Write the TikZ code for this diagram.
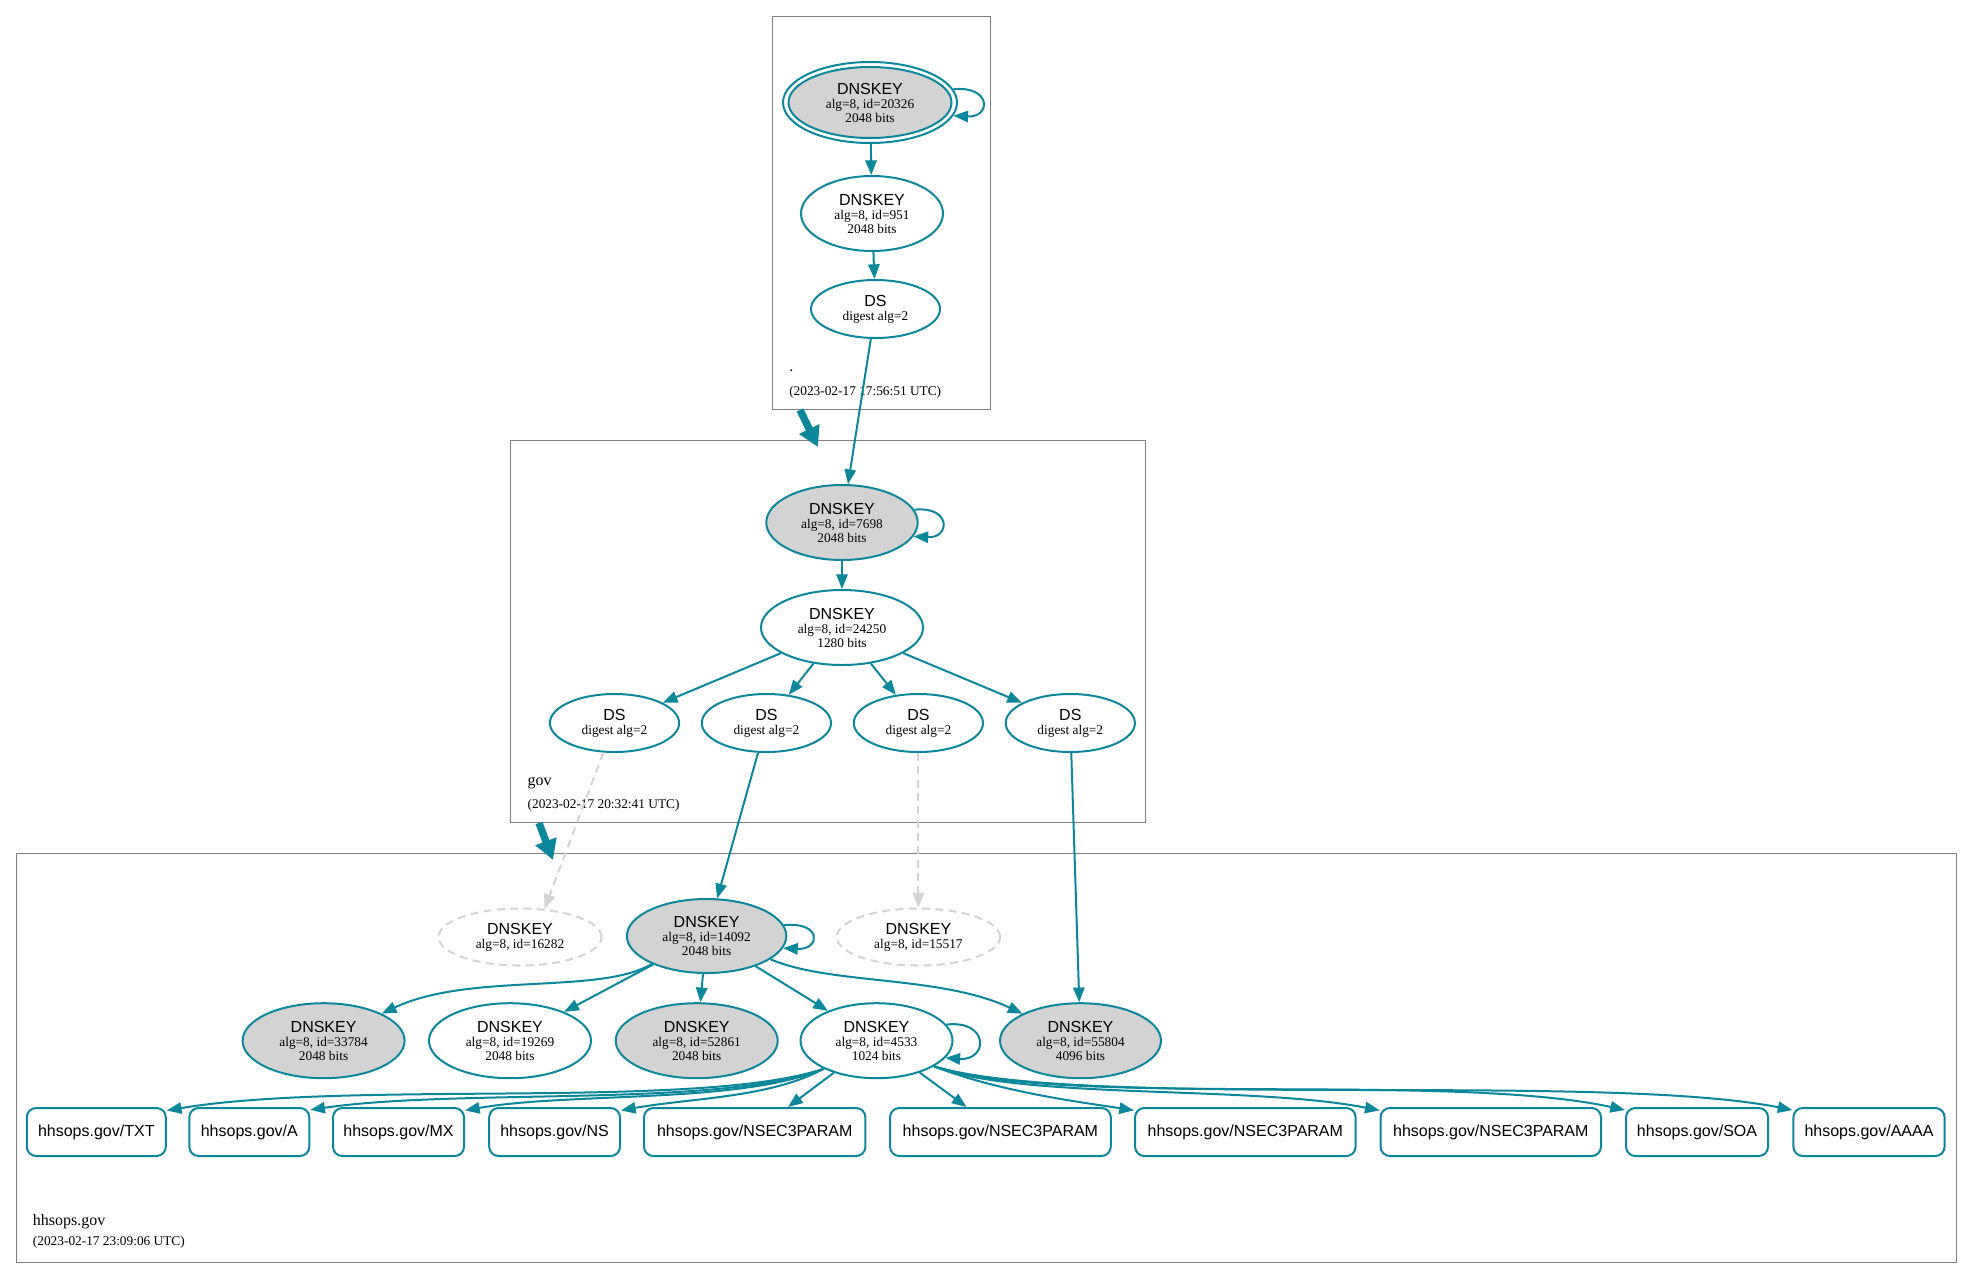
\documentclass[tikz,border=0pt]{standalone}
\usepackage{fontspec}
\setmainfont{Liberation Serif}
\setsansfont{Liberation Sans}
\usetikzlibrary{arrows.meta,shapes.geometric}
\definecolor{dteal}{HTML}{0A879A}
\definecolor{lgray}{HTML}{D3D3D3}
\definecolor{mgray}{HTML}{808080}
\newcommand\nhd[1]{{\sffamily\fontsize{12}{12}\selectfont #1}}
\begin{document}
\begin{tikzpicture}[x=0.75pt,y=-0.75pt,
  kn/.style={ellipse, draw=dteal, line width=1.5pt, fill=white, inner sep=0pt, align=center, font=\rmfamily\fontsize{10}{10.5}\selectfont},
  ksep/.style={kn, fill=lgray},
  kmiss/.style={kn, draw=lgray, dash pattern=on 6pt off 4pt},
  sz/.style 2 args={minimum width=1.5pt*#1, minimum height=1.5pt*#2},
  rrbox/.style={rectangle, rounded corners=7pt, draw=dteal, line width=1.5pt, fill=white, inner sep=0pt, minimum height=36pt, font=\sffamily\fontsize{12}{14}\selectfont},
  bw/.style={minimum width=1.5pt*#1},
  clbox/.style={rectangle, draw=mgray, line width=0.75pt, inner sep=0pt},
  arr/.style={draw=dteal, line width=1.5pt, -{Triangle[length=11pt,width=8.5pt]}},
  darr/.style={draw=lgray, line width=1.5pt, dash pattern=on 6pt off 4pt, -{Triangle[length=11pt,width=8.5pt]}},
  bigarr/.style={draw=dteal, line width=5.5pt, -{Triangle[length=15pt,width=16pt]}},
  lab/.style={anchor=base west, inner sep=0pt, font=\rmfamily\fontsize{12}{14}\selectfont},
  dlab/.style={anchor=base west, inner sep=0pt, font=\rmfamily\fontsize{10}{12}\selectfont}]
\useasboundingbox (0,0) rectangle (1972,1278);

% clusters
\node[clbox, minimum width=163.5pt, minimum height=294.75pt] (zroot) at (881,212.5) {};
\node[clbox, minimum width=475.9pt, minimum height=287pt] (zgov) at (827.75,631.35) {};
\node[clbox, minimum width=1455pt, minimum height=306.5pt] (zhh) at (986,1057.65) {};

\node[lab] (lroot) at (789,371) {.};
\node[dlab] (droot) at (789,395) {(2023-02-17 17:56:51 UTC)};
\node[lab] (lgov) at (527.4,785) {gov};
\node[dlab] (dgov) at (527.4,808.5) {(2023-02-17 20:32:41 UTC)};
\node[lab] (lhh) at (32.7,1225) {hhsops.gov};
\node[dlab] (dhh) at (32.7,1245.5) {(2023-02-17 23:09:06 UTC)};

\coordinate (t1a) at (800,410);
\coordinate (t1b) at (818,447);
\coordinate (t2a) at (539,823);
\coordinate (t2b) at (553,860);
\draw[bigarr] (t1a) -- (t1b);
\draw[bigarr] (t2a) -- (t2b);

% root zone
\node[ksep, sz={81.5}{35.5}] (r20326) at (870,102.5) {\nhd{DNSKEY}\\alg=8, id=20326\\2048 bits};
\node[ellipse, draw=dteal, line width=1.5pt, sz={87}{40.5}, inner sep=0pt] (r20326o) at (r20326) {};
\node[kn, sz={71}{37.5}] (r951) at (872,213.5) {\nhd{DNSKEY}\\alg=8, id=951\\2048 bits};
\node[kn, sz={64.5}{29}] (rds) at (875.5,309) {\nhd{DS}\\digest alg=2};

% gov zone
\node[ksep, sz={75.7}{37.5}] (g7698) at (842,522.5) {\nhd{DNSKEY}\\alg=8, id=7698\\2048 bits};
\node[kn, sz={81}{37.5}] (g24250) at (842,627.5) {\nhd{DNSKEY}\\alg=8, id=24250\\1280 bits};
\node[kn, sz={64.6}{29}] (gds1) at (614.5,723) {\nhd{DS}\\digest alg=2};
\node[kn, sz={64.6}{29}] (gds2) at (766.4,723) {\nhd{DS}\\digest alg=2};
\node[kn, sz={64.6}{29}] (gds3) at (918.4,723) {\nhd{DS}\\digest alg=2};
\node[kn, sz={64.6}{29}] (gds4) at (1070.3,723) {\nhd{DS}\\digest alg=2};

% hhsops zone
\node[kmiss, sz={81.5}{28.5}] (h16282) at (520,937) {\nhd{DNSKEY}\\alg=8, id=16282};
\node[ksep, sz={79.7}{37}] (h14092) at (706.6,936) {\nhd{DNSKEY}\\alg=8, id=14092\\2048 bits};
\node[kmiss, sz={81.7}{28.5}] (h15517) at (918.4,937) {\nhd{DNSKEY}\\alg=8, id=15517};
\node[ksep, sz={81}{37.5}] (h33784) at (323.6,1040.7) {\nhd{DNSKEY}\\alg=8, id=33784\\2048 bits};
\node[kn, sz={81}{37.5}] (h19269) at (510,1040.7) {\nhd{DNSKEY}\\alg=8, id=19269\\2048 bits};
\node[ksep, sz={81}{37.5}] (h52861) at (696.7,1040.7) {\nhd{DNSKEY}\\alg=8, id=52861\\2048 bits};
\node[kn, sz={76}{37.5}] (h4533) at (876.5,1040.7) {\nhd{DNSKEY}\\alg=8, id=4533\\1024 bits};
\node[ksep, sz={80.5}{37.5}] (h55804) at (1080.5,1040.7) {\nhd{DNSKEY}\\alg=8, id=55804\\4096 bits};

\node[rrbox, bw=69.5] (bTXT) at (96.3,1132) {hhsops.gov/TXT};
\node[rrbox, bw=60] (bA) at (249.3,1132) {hhsops.gov/A};
\node[rrbox, bw=65.5] (bMX) at (398.5,1132) {hhsops.gov/MX};
\node[rrbox, bw=65.4] (bNS) at (554.6,1132) {hhsops.gov/NS};
\node[rrbox, bw=110.7] (bN1) at (754.7,1132) {hhsops.gov/NSEC3PARAM};
\node[rrbox, bw=110.4] (bN2) at (1000.4,1132) {hhsops.gov/NSEC3PARAM};
\node[rrbox, bw=110.3] (bN3) at (1245.3,1132) {hhsops.gov/NSEC3PARAM};
\node[rrbox, bw=110.2] (bN4) at (1490.8,1132) {hhsops.gov/NSEC3PARAM};
\node[rrbox, bw=71] (bSOA) at (1697,1132) {hhsops.gov/SOA};
\node[rrbox, bw=75.6] (bAAAA) at (1869,1132) {hhsops.gov/AAAA};

% root edges
\draw[arr] (r20326o.9) .. controls +(38,-4) and +(38,2) .. (r20326o.-9);
\draw[arr] (r20326o) -- (r951);
\draw[arr] (r951) -- (rds);
\draw[arr] (rds) -- (g7698);

% gov edges
\draw[arr] (g7698.10) .. controls +(37,-4) and +(37,2) .. (g7698.-11);
\draw[arr] (g7698) -- (g24250);
\draw[arr] (g24250) -- (gds1);
\draw[arr] (g24250) -- (gds2);
\draw[arr] (g24250) -- (gds3);
\draw[arr] (g24250) -- (gds4);
\draw[darr] (gds1) -- (h16282.49);
\draw[arr] (gds2) -- (h14092);
\draw[darr] (gds3) -- (h15517);
\draw[arr] (gds4) -- (h55804);

% hhsops edges
\draw[arr] (h14092.8) .. controls +(38,-4) and +(38,2) .. (h14092.-9);
\draw[arr] (h14092.-153) .. controls (600,995) and (470,972) .. (h33784.25);
\draw[arr] (h14092) -- (h19269);
\draw[arr] (h14092) -- (h52861);
\draw[arr] (h14092) -- (h4533);
\draw[arr] (h14092.-20) .. controls (830,985) and (940,975) .. (h55804.155);

\draw[arr] (h4533.13) .. controls +(43,-5) and +(43,3) .. (h4533.-14);
\draw[arr] (h4533.-152) .. controls (700,1110) and (350,1080) .. (bTXT.17);
\draw[arr] (h4533.-152) .. controls (720,1108) and (460,1088) .. (bA.20);
\draw[arr] (h4533.-152) .. controls (740,1104) and (570,1092) .. (bMX.18);
\draw[arr] (h4533.-152) .. controls (770,1098) and (690,1098) .. (bNS.18);
\draw[arr] (h4533) -- (bN1);
\draw[arr] (h4533) -- (bN2);
\draw[arr] (h4533.-24) .. controls (1000,1092) and (1080,1102) .. (bN3.169);
\draw[arr] (h4533.-24) .. controls (1020,1100) and (1250,1085) .. (bN4.169);
\draw[arr] (h4533.-24) .. controls (1060,1108) and (1450,1072) .. (bSOA.163);
\draw[arr] (h4533.-24) .. controls (1080,1110) and (1600,1072) .. (bAAAA.164);
\end{tikzpicture}
\end{document}
